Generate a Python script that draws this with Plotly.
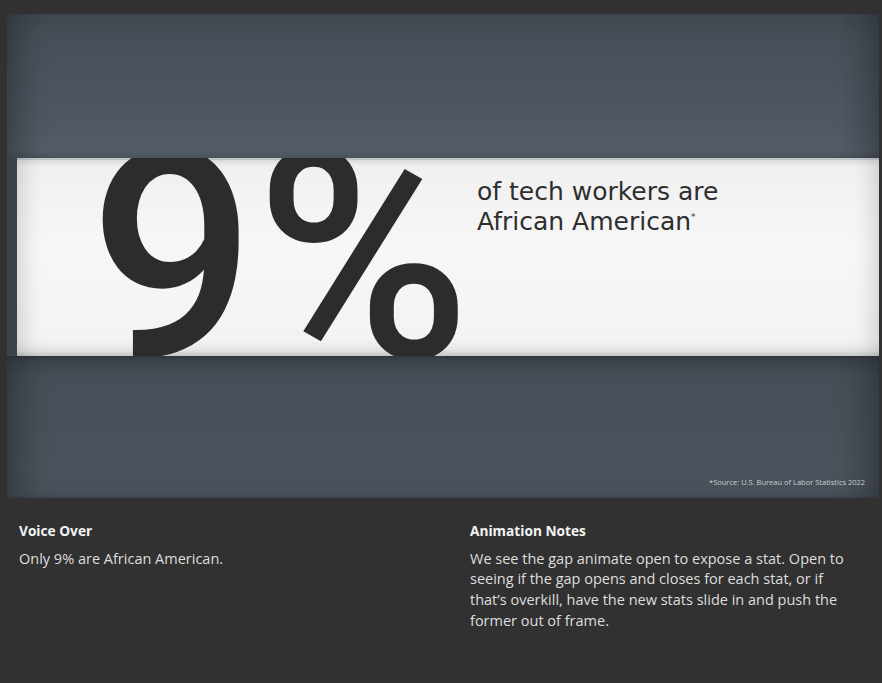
import plotly.graph_objects as go

# ---------------- content ----------------
STAT_VALUE = 9
STAT_LABEL = f"{STAT_VALUE}%"
STAT_CAPTION = ["of tech workers are", "African American"]
FOOTNOTE = "*Source: U.S. Bureau of Labor Statistics 2022"
LEFT_TITLE = "Voice Over"
LEFT_BODY = ["Only 9% are African American."]
RIGHT_TITLE = "Animation Notes"
RIGHT_BODY = [
    "We see the gap animate open to expose a stat. Open to",
    "seeing if the gap opens and closes for each stat, or if",
    "that\u2019s overkill, have the new stats slide in and push the",
    "former out of frame.",
]

W, H = 882, 683
PANEL = (7, 14, 879, 498)      # x0, y0, x1, y1 in px
BAND = (17, 158, 879, 356)


def px(x):
    return x / W


def py(y):
    return 1 - y / H


def hex2rgb(h):
    h = h.lstrip("#")
    return tuple(int(h[i:i + 2], 16) for i in (0, 2, 4))


def interp(stops, y):
    for (y0, c0), (y1, c1) in zip(stops, stops[1:]):
        if y0 <= y <= y1:
            t = 0 if y1 == y0 else (y - y0) / (y1 - y0)
            a, b = hex2rgb(c0), hex2rgb(c1)
            r = [round(a[i] + (b[i] - a[i]) * t) for i in range(3)]
            return f"rgb({r[0]},{r[1]},{r[2]})"
    return stops[-1][1]


shapes = []


def rect(x0, x1, y0, y1, color):
    shapes.append(dict(type="rect", xref="paper", yref="paper", layer="below",
                       x0=px(x0), x1=px(x1), y0=py(y1), y1=py(y0),
                       fillcolor=color, line_width=0))


def vstrips(x0, x1, y0, y1, stops, step=2):
    y = y0
    while y < y1:
        yy = min(y + step, y1)
        rect(x0, x1, y, yy, interp(stops, (y + yy) / 2))
        y = yy


def side_vignette(y0, y1, strength, width=44):
    for i in range(0, width, 2):
        a = strength * (1 - i / width) ** 1.6
        c = f"rgba(28,31,36,{a:.3f})"
        rect(PANEL[0] + i, PANEL[0] + i + 2, y0, y1, c)
        rect(PANEL[2] - i - 2, PANEL[2] - i, y0, y1, c)


# panel: upper part
vstrips(PANEL[0], PANEL[2], PANEL[1], BAND[1],
        [(14, "#40474f"), (40, "#475059"), (120, "#4f5862"), (150, "#545d67"), (158, "#4a525b")])
# panel strip left of band
vstrips(PANEL[0], BAND[0], BAND[1], BAND[3], [(158, "#3d434a"), (356, "#3d434a")])
# panel: lower part
vstrips(PANEL[0], PANEL[2], BAND[3], PANEL[3],
        [(356, "#30363c"), (360, "#3b424a"), (376, "#464e57"), (470, "#4a525b"),
         (494, "#474f58"), (498, "#3f464e")])
side_vignette(PANEL[1], BAND[1], 0.38)
side_vignette(BAND[3], PANEL[3], 0.38)
# white band
vstrips(BAND[0], BAND[2], BAND[1], BAND[3],
        [(158, "#b4b7ba"), (161, "#dcdddf"), (166, "#f0f0f0"), (250, "#f7f7f7"),
         (340, "#f3f3f3"), (350, "#e4e4e4"), (356, "#c4c6c8")])
for i in range(0, 24, 2):
    a = 0.14 * (1 - i / 24) ** 1.5
    rect(BAND[0] + i, BAND[0] + i + 2, BAND[1], BAND[3], f"rgba(60,64,70,{a:.3f})")
    rect(BAND[2] - i - 2, BAND[2] - i, BAND[1], BAND[3], f"rgba(60,64,70,{a:.3f})")

fig = go.Figure()

# the big stat, clipped by the band (the subplot covers the band only)
fig.add_trace(go.Scatter(
    x=[280], y=[284], mode="text", text=[STAT_LABEL], textposition="middle center",
    textfont=dict(family="Roboto", size=292, color="#2c2c2c", weight=500),
    cliponaxis=True, hoverinfo="skip", showlegend=False,
))

annotations = []
# caption next to the stat
for i, (ln, yc) in enumerate(zip(STAT_CAPTION, [191, 222])):
    txt = ln + ("<sup><span style='font-size:9px'>*</span></sup>" if i == 1 else "")
    annotations.append(dict(
        xref="paper", yref="paper", x=px(475), y=py(yc), xanchor="left", yanchor="middle",
        text=txt, align="left", showarrow=False,
        font=dict(family="DejaVu Sans", size=25, color="#2e2e2e"),
    ))
annotations.append(dict(
    xref="paper", yref="paper", x=px(867), y=py(482), xanchor="right", yanchor="middle",
    text=FOOTNOTE, showarrow=False,
    font=dict(family="Open Sans", size=7.5, color="#c9cdd2"),
))


def block(x, title, lines):
    annotations.append(dict(
        xref="paper", yref="paper", x=px(x), y=py(530), xanchor="left", yanchor="middle",
        text=f"<b>{title}</b>", showarrow=False,
        font=dict(family="Open Sans", size=13.7, color="#f4f4f4"),
    ))
    for i, ln in enumerate(lines):
        annotations.append(dict(
            xref="paper", yref="paper", x=px(x), y=py(558 + 20.7 * i), xanchor="left",
            yanchor="middle", text=ln, showarrow=False,
            font=dict(family="Open Sans", size=14.5, color="#dedede"),
        ))


block(17, LEFT_TITLE, LEFT_BODY)
block(468, RIGHT_TITLE, RIGHT_BODY)

fig.update_layout(
    width=W, height=H,
    margin=dict(l=0, r=0, t=0, b=0),
    paper_bgcolor="#313131",
    plot_bgcolor="rgba(0,0,0,0)",
    shapes=shapes,
    annotations=annotations,
    xaxis=dict(domain=[px(BAND[0]), px(BAND[2])], range=[BAND[0], BAND[2]],
               visible=False, fixedrange=True),
    yaxis=dict(domain=[py(BAND[3]), py(BAND[1])], range=[BAND[3], BAND[1]],
               visible=False, fixedrange=True),
    showlegend=False,
)

fig.write_html("out.html", config={"displayModeBar": False},
               post_script="document.body.style.margin='0';document.body.style.overflow='hidden';")
